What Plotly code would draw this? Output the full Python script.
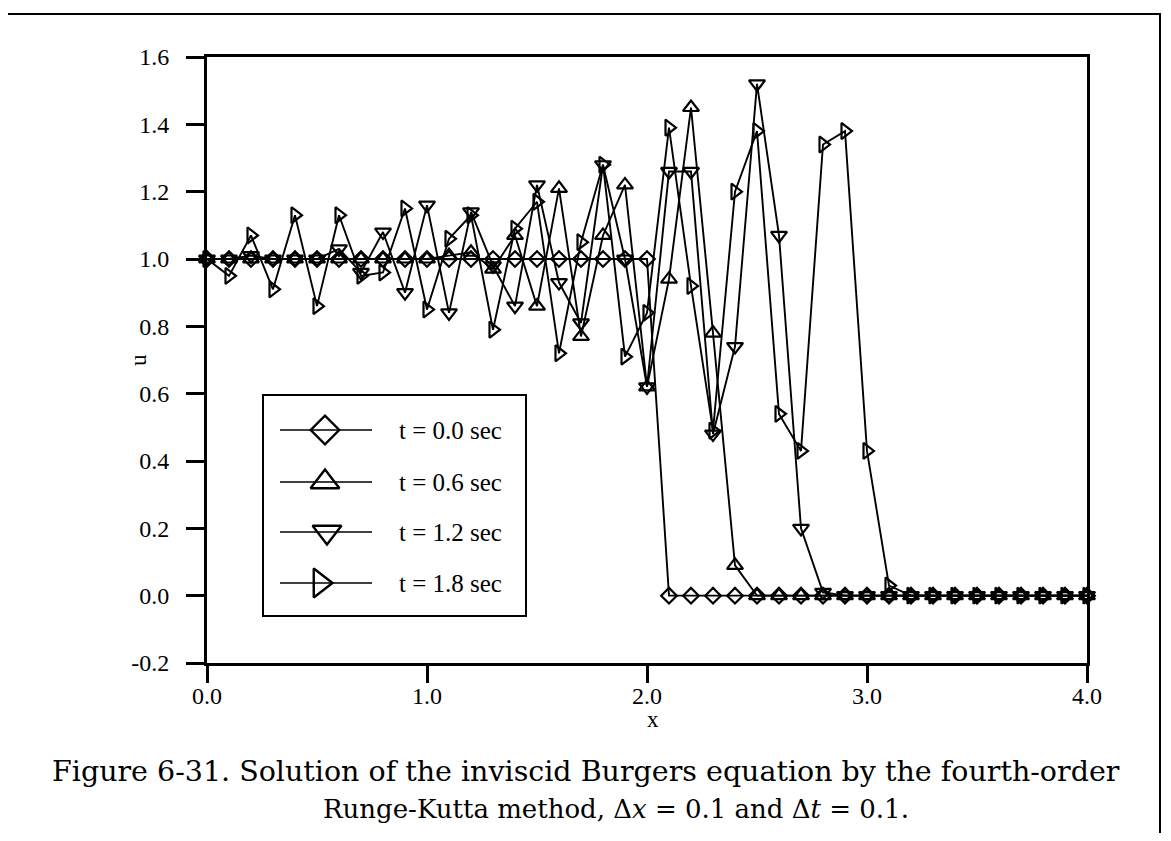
import plotly.graph_objects as go

# ---- data ----
x_vals = [0.0, 0.1, 0.2, 0.3, 0.4, 0.5, 0.6, 0.7, 0.8, 0.9,
          1.0, 1.1, 1.2, 1.3, 1.4, 1.5, 1.6, 1.7, 1.8, 1.9,
          2.0, 2.1, 2.2, 2.3, 2.4, 2.5, 2.6, 2.7, 2.8, 2.9,
          3.0, 3.1, 3.2, 3.3, 3.4, 3.5, 3.6, 3.7, 3.8, 3.9, 4.0]

u_t00 = [1.00, 1.00, 1.00, 1.00, 1.00, 1.00, 1.00, 1.00, 1.00, 1.00,
         1.00, 1.00, 1.00, 1.00, 1.00, 1.00, 1.00, 1.00, 1.00, 1.00,
         1.00, 0.00, 0.00, 0.00, 0.00, 0.00, 0.00, 0.00, 0.00, 0.00,
         0.00, 0.00, 0.00, 0.00, 0.00, 0.00, 0.00, 0.00, 0.00, 0.00, 0.00]

u_t06 = [1.00, 1.00, 1.00, 1.00, 1.00, 1.00, 1.00, 1.00, 1.00, 1.00,
         1.00, 1.01, 1.02, 0.97, 1.07, 0.86, 1.21, 0.77, 1.07, 1.22,
         0.62, 0.94, 1.45, 0.78, 0.09, 0.00, 0.00, 0.00, 0.00, 0.00,
         0.00, 0.00, 0.00, 0.00, 0.00, 0.00, 0.00, 0.00, 0.00, 0.00, 0.00]

u_t12 = [1.00, 1.00, 1.01, 1.00, 1.00, 1.00, 1.03, 0.96, 1.08, 0.90,
         1.16, 0.84, 1.14, 0.98, 0.86, 1.22, 0.93, 0.81, 1.28, 1.00,
         0.62, 1.26, 1.26, 0.48, 0.74, 1.52, 1.07, 0.20, 0.01, 0.00,
         0.00, 0.00, 0.00, 0.00, 0.00, 0.00, 0.00, 0.00, 0.00, 0.00, 0.00]

u_t18 = [1.00, 0.95, 1.07, 0.91, 1.13, 0.86, 1.13, 0.95, 0.96, 1.15,
         0.85, 1.06, 1.13, 0.79, 1.09, 1.17, 0.72, 1.05, 1.28, 0.71,
         0.84, 1.39, 0.92, 0.49, 1.20, 1.38, 0.54, 0.43, 1.34, 1.38,
         0.43, 0.03, 0.00, 0.00, 0.00, 0.00, 0.00, 0.00, 0.00, 0.00, 0.00]

series_names = ["t = 0.0 sec", "t = 0.6 sec", "t = 1.2 sec", "t = 1.8 sec"]
series_vals = [u_t00, u_t06, u_t12, u_t18]
symbols = ["diamond-open", "triangle-up-open", "triangle-down-open", "triangle-right-open"]
marker_sizes = [12, 14, 14, 14]

x_tick_vals = [0, 1, 2, 3, 4]
x_tick_text = ["0.0", "1.0", "2.0", "3.0", "4.0"]
y_tick_vals = [-0.2, 0.0, 0.2, 0.4, 0.6, 0.8, 1.0, 1.2, 1.4, 1.6]
y_tick_text = ["-0.2", "0.0", "0.2", "0.4", "0.6", "0.8", "1.0", "1.2", "1.4", "1.6"]

caption_1 = "Figure 6-31. Solution of the inviscid Burgers equation by the fourth-order"
caption_2 = "Runge-Kutta method, Δ<i>x</i> = 0.1 and Δ<i>t</i> = 0.1."

# ---- layout geometry (pixels; page body has an 8px margin) ----
OFF = 8
W, H = 1171 - 2 * OFF, 841 - 2 * OFF
PLOT_L, PLOT_R, PLOT_T, PLOT_B = 207, 1087, 57, 663   # in page pixels
L = PLOT_L - OFF
T = PLOT_T - OFF
R = W - (PLOT_R - OFF)
B = H - (PLOT_B - OFF)
PW, PH = PLOT_R - PLOT_L, PLOT_B - PLOT_T


def px_x(px):
    return (px - PLOT_L) / PW


def px_y(py):
    return (PLOT_B - py) / PH


SERIF = "Liberation Serif"
CAPFONT = "DejaVu Serif"

fig = go.Figure()

for name, vals, sym, ms in zip(series_names, series_vals, symbols, marker_sizes):
    fig.add_trace(go.Scatter(
        x=x_vals, y=vals, mode="lines+markers", name=name,
        line=dict(color="black", width=1.9),
        marker=dict(symbol=sym, size=ms, color="black",
                    line=dict(color="black", width=2.2)),
        showlegend=False, cliponaxis=False,
    ))

# ---- custom legend (local pixel axes) ----
leg_box = (263, 395, 526, 616)
row_y = [430, 482, 532, 583]
mark_x = [325, 325, 327, 320]
leg_sizes = [22, 25, 25, 25]
for i, (name, sym) in enumerate(zip(series_names, symbols)):
    fig.add_trace(go.Scatter(
        x=[280, 372], y=[row_y[i], row_y[i]], mode="lines",
        line=dict(color="black", width=1.6), xaxis="x2", yaxis="y2",
        showlegend=False, hoverinfo="skip"))
    fig.add_trace(go.Scatter(
        x=[mark_x[i]], y=[row_y[i]], mode="markers",
        marker=dict(symbol=sym, size=leg_sizes[i], color="black",
                    line=dict(color="black", width=2.4)),
        xaxis="x2", yaxis="y2", showlegend=False, hoverinfo="skip",
        cliponaxis=False))
    fig.add_annotation(x=397, y=row_y[i], xref="x2", yref="y2", text=name,
                       showarrow=False, xanchor="left", yanchor="middle",
                       font=dict(family=SERIF, size=25, color="black"))

fig.add_shape(type="rect", xref="paper", yref="paper",
              x0=px_x(leg_box[0]), x1=px_x(leg_box[2]),
              y0=px_y(leg_box[3]), y1=px_y(leg_box[1]),
              line=dict(color="black", width=2))

# outer figure frame (left, top, right)
fx0, fx1, fy0, fy1 = px_x(7), px_x(1160), px_y(840), px_y(14)
fig.add_shape(type="path", xref="paper", yref="paper",
              path=f"M {fx0} {fy0} L {fx0} {fy1} L {fx1} {fy1} L {fx1} {fy0}",
              line=dict(color="black", width=2))

# axis titles and caption
fig.add_annotation(x=px_x(653), y=px_y(719), xref="paper", yref="paper",
                   text="x", showarrow=False, xanchor="center", yanchor="middle",
                   font=dict(family=SERIF, size=23, color="black"))
fig.add_annotation(x=px_x(138), y=px_y(360), xref="paper", yref="paper",
                   text="u", showarrow=False, textangle=-90,
                   xanchor="center", yanchor="middle",
                   font=dict(family=SERIF, size=23, color="black"))
fig.add_annotation(x=px_x(586), y=px_y(771), xref="paper", yref="paper",
                   text=caption_1, showarrow=False, xanchor="center", yanchor="middle",
                   font=dict(family=CAPFONT, size=28.5, color="black"))
fig.add_annotation(x=px_x(616), y=px_y(809), xref="paper", yref="paper",
                   text=caption_2, showarrow=False, xanchor="center", yanchor="middle",
                   font=dict(family=CAPFONT, size=26, color="black"))

fig.update_layout(
    width=W, height=H,
    margin=dict(l=L, r=R, t=T, b=B, pad=0),
    paper_bgcolor="white", plot_bgcolor="white",
    showlegend=False,
    xaxis=dict(range=[0, 4], tickvals=x_tick_vals, ticktext=x_tick_text,
               showgrid=False, zeroline=False, showline=True, mirror=True,
               linecolor="black", linewidth=3, ticks="outside", ticklen=17,
               tickwidth=2.5, tickcolor="black", ticklabelstandoff=-8,
               tickfont=dict(family=SERIF, size=24, color="black")),
    yaxis=dict(range=[-0.2, 1.6], tickvals=y_tick_vals, ticktext=y_tick_text,
               showgrid=False, zeroline=False, showline=True, mirror=True,
               linecolor="black", linewidth=3, ticks="outside", ticklen=18,
               tickwidth=2.5, tickcolor="black", ticklabelstandoff=12,
               tickfont=dict(family=SERIF, size=24, color="black")),
    xaxis2=dict(domain=[px_x(leg_box[0]), px_x(leg_box[2])],
                range=[leg_box[0], leg_box[2]], visible=False,
                anchor="y2", fixedrange=True),
    yaxis2=dict(domain=[px_y(leg_box[3]), px_y(leg_box[1])],
                range=[leg_box[3], leg_box[1]], visible=False,
                anchor="x2", fixedrange=True),
)

fig.write_html("out.html")
